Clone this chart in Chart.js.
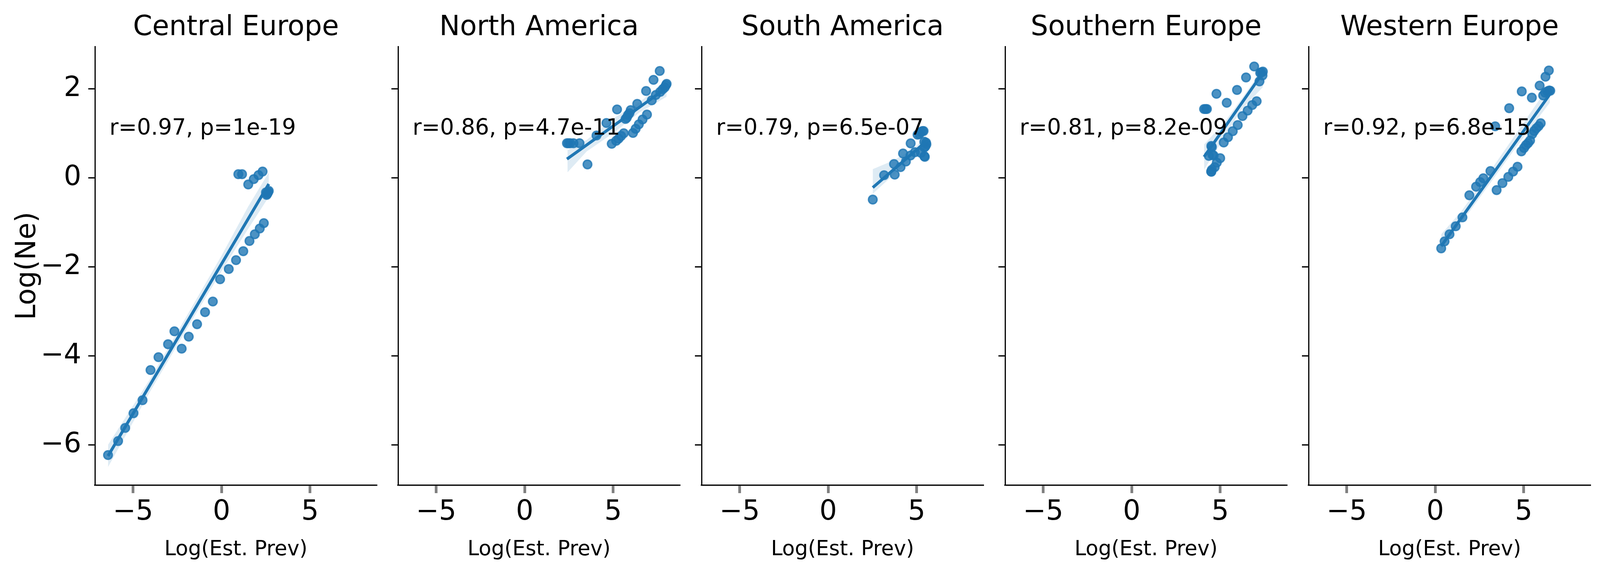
<!DOCTYPE html>
<html><head><meta charset="utf-8">
<style>html,body{margin:0;padding:0;background:#fff;overflow:hidden}canvas{position:absolute;top:0}</style>
<script src="https://cdn.jsdelivr.net/npm/chart.js@4"></script></head><body>
<script>
const regions = ["Central Europe","North America","South America","Southern Europe","Western Europe"];
const notes = ["r=0.97, p=1e-19","r=0.86, p=4.7e-11","r=0.79, p=6.5e-07","r=0.81, p=8.2e-09","r=0.92, p=6.8e-15"];
const xTickValues = [-5,0,5];
const yTickValues = [-6,-4,-2,0,2];
const xLabel = "Log(Est. Prev)";
const yLabel = "Log(Ne)";

const centralX = [-6.41,-5.84,-5.44,-4.97,-4.46,-4.01,-3.56,-3.02,-2.66,-2.25,-1.85,-1.38,-0.93,-0.49,-0.08,0.41,0.82,1.23,1.58,1.88,2.16,2.39,0.95,1.16,1.51,1.82,2.09,2.32,2.51,2.55,2.61,2.67,2.57,2.63];
const centralY = [-6.23,-5.915,-5.62,-5.29,-4.997,-4.32,-4.03,-3.74,-3.45,-3.84,-3.57,-3.29,-3.02,-2.78,-2.28,-2.05,-1.85,-1.65,-1.42,-1.27,-1.14,-1.02,0.08,0.08,-0.15,-0.03,0.06,0.14,-0.33,-0.385,-0.345,-0.295,-0.36,-0.32];
const northX = [2.39,2.48,2.58,2.76,3.10,3.55,4.06,4.62,5.22,4.92,5.17,5.31,5.45,5.60,5.70,5.77,5.84,5.92,5.99,6.36,6.12,6.27,6.45,6.66,6.91,6.86,7.18,7.41,7.28,7.63,7.66,7.80,7.91,7.98,8.02];
const northY = [0.776,0.776,0.776,0.776,0.776,0.30,0.95,1.23,1.535,0.764,0.83,0.88,0.94,1.0,1.32,1.35,1.41,1.45,1.52,1.66,1.007,1.10,1.20,1.31,1.42,1.95,1.74,1.86,2.20,2.40,1.93,1.99,2.03,2.08,2.11];
const southX = [2.52,3.16,3.76,3.72,4.09,4.39,4.23,4.66,4.65,4.90,5.05,5.15,5.24,5.33,5.39,5.43,5.53,5.55,5.49,5.43,5.43,5.46,5.24];
const southY = [-0.49,0.057,0.07,0.31,0.24,0.364,0.545,0.773,0.50,0.574,0.968,0.98,1.03,1.05,1.05,0.81,0.79,0.75,0.705,0.68,0.486,0.47,0.56];
const southernX = [6.92,6.46,5.95,4.79,5.37,4.09,4.18,4.25,7.06,6.81,6.55,6.26,5.99,5.71,5.44,5.20,7.22,7.39,7.41,7.33,7.26,4.50,4.53,4.36,4.56,4.63,5.0,4.81,4.69,4.53,4.49,4.50];
const southernY = [2.50,2.254,1.973,1.886,1.684,1.544,1.544,1.544,1.72,1.634,1.509,1.386,1.185,1.047,0.91,0.793,2.166,2.30,2.385,2.37,2.356,0.714,0.69,0.492,0.516,0.50,0.44,0.34,0.238,0.18,0.142,0.135];
const westernX = [0.34,0.53,0.81,1.16,1.54,1.93,2.31,2.54,2.72,3.12,3.39,4.18,4.89,5.46,5.90,6.23,6.42,3.47,3.80,4.13,4.40,4.65,4.87,5.02,5.13,5.25,5.36,5.48,5.59,5.71,5.84,5.96,6.10,6.21,6.33,6.44,6.50];
const westernY = [-1.586,-1.43,-1.27,-1.09,-0.89,-0.393,-0.20,-0.096,-0.01,0.151,1.156,1.563,1.94,1.80,2.07,2.27,2.41,-0.277,-0.12,0.02,0.139,0.248,0.593,0.67,0.734,0.78,0.837,0.98,1.05,1.11,1.16,1.225,1.85,1.91,1.94,1.96,1.955];

const centralFitX = [-6.41,2.67]; const centralFitY = [-6.25,-0.14];
const northFitX = [2.39,8.02]; const northFitY = [0.42,2.02];
const southFitX = [2.52,5.55]; const southFitY = [-0.22,0.82];
const southernFitX = [4.09,7.41]; const southernFitY = [0.47,2.356];
const westernFitX = [0.34,6.48]; const westernFitY = [-1.535,1.876];

const centralBandX = [-6.41,-4,-2,0,1.5,2.67];
const centralBandHi = [-6.0,-4.5,-3.13,-1.75,-0.65,0.12];
const centralBandLo = [-6.5,-4.78,-3.42,-2.1,-1.15,-0.43];
const northBandX = [2.42,3.5,5,6.5,8.02];
const northBandHi = [0.618,0.85,1.33,1.7,2.2];
const northBandLo = [0.12,0.59,1.0,1.47,1.82];
const southBandX = [2.52,3.4,4.2,5,5.55];
const southBandHi = [0.194,0.34,0.50,0.72,0.95];
const southBandLo = [-0.36,-0.04,0.23,0.52,0.68];
const southernBandX = [4.09,5.3,6.2,7.41];
const southernBandHi = [0.749,1.275,1.77,2.45];
const southernBandLo = [0.18,0.95,1.53,2.035];
const westernBandX = [0.34,1.5,3,4.5,6.48];
const westernBandHi = [-1.27,-0.74,0.09,0.95,2.1];
const westernBandLo = [-1.6,-1.0,-0.18,0.65,1.69];

const panelX = [centralX,northX,southX,southernX,westernX];
const panelY = [centralY,northY,southY,southernY,westernY];
const fitX = [centralFitX,northFitX,southFitX,southernFitX,westernFitX];
const fitY = [centralFitY,northFitY,southFitY,southernFitY,westernFitY];
const bandX = [centralBandX,northBandX,southBandX,southernBandX,westernBandX];
const bandHi = [centralBandHi,northBandHi,southBandHi,southernBandHi,westernBandHi];
const bandLo = [centralBandLo,northBandLo,southBandLo,southernBandLo,westernBandLo];

const FONT = "'DejaVu Sans'";
const BLUE = "31,119,180";
const pairs = (xs, ys) => xs.map((x, i) => ({x, y: ys[i]}));
const fmt = v => v < 0 ? "\u2212" + Math.abs(v) : String(v);

const noteText = {
  id: "noteText",
  afterDatasetsDraw(chart, args, opts) {
    const {ctx, scales} = chart;
    ctx.save();
    ctx.font = "56.4px " + FONT;
    ctx.fillStyle = "#000";
    ctx.textBaseline = "alphabetic";
    ctx.fillText(opts.text, scales.x.getPixelForValue(opts.x), scales.y.getPixelForValue(opts.y));
    ctx.restore();
  }
};

/* the browser window holds 4096 px of width, so the five panels keep the
   reference's proportions of that width and its full height */
const FRAME_W = Math.min(window.innerWidth, 4842), K = FRAME_W / 4842;
const LEFT = Math.round(286.7 * K), PLOT_W = Math.round(854 * K), STEP = 918.3 * K, H = 1465;
const W = Math.round(1170 * K);
regions.forEach((name, i) => {
  const c = document.createElement("canvas");
  c.width = W; c.height = H;
  c.style.left = Math.round(286.7 * K + STEP * i - LEFT) + "px";
  c.style.width = W + "px"; c.style.height = H + "px";
  document.body.appendChild(c);
  new Chart(c, {
    type: "scatter",
    data: {datasets: [
      {type:"line", data: pairs(fitX[i], fitY[i]), borderColor:`rgb(${BLUE})`, borderWidth:7.5, pointRadius:0, fill:false, order:0},
      {type:"line", data: pairs(bandX[i], bandHi[i]), borderWidth:0, borderColor:"transparent", pointRadius:0, fill:"+1", backgroundColor:`rgba(${BLUE},0.15)`, order:1},
      {type:"line", data: pairs(bandX[i], bandLo[i]), borderWidth:0, borderColor:"transparent", pointRadius:0, fill:false, order:1},
      {data: pairs(panelX[i], panelY[i]), pointRadius:11, pointBorderWidth:3.6, pointBackgroundColor:`rgba(${BLUE},0.8)`, pointBorderColor:`rgba(${BLUE},0.8)`, order:2}
    ]},
    options: {
      responsive:false, maintainAspectRatio:false, animation:false, devicePixelRatio:1,
      layout:{padding:{left:0,right:W-LEFT-PLOT_W,top:0,bottom:0}},
      plugins:{
        legend:{display:false}, tooltip:{enabled:false},
        title:{display:true, text:name, color:"#000", fullSize:false, font:{family:FONT,size:70.5,weight:"normal"}, padding:{top:29,bottom:5.4}},
        noteText:{text:notes[i], x:-6.33, y:0.97}
      },
      scales:{
        x:{type:"linear", min:-7.15, max:8.78,
          afterBuildTicks:s=>{s.ticks=xTickValues.map(value=>({value}));},
          afterFit:s=>{s.height=222;},
          grid:{drawOnChartArea:false, tickLength:20, tickColor:"#808080", tickWidth:7},
          border:{color:"#000",width:3.3},
          ticks:{color:"#000", maxRotation:0, padding:7, font:{family:FONT,size:70.5}, callback:fmt},
          title:{display:true, text:xLabel, color:"#000", font:{family:FONT,size:52.9}, padding:{top:0,bottom:25}}
        },
        y:{type:"linear", min:-6.91, max:2.95,
          afterBuildTicks:s=>{s.ticks=yTickValues.map(value=>({value}));},
          afterFit:s=>{s.width=LEFT;},
          grid:{drawOnChartArea:false, tickLength:17, tickColor:"#000", tickWidth:3.3},
          border:{color:"#000",width:3},
          ticks:{display:i===0, color:"#000", padding:18, font:{family:FONT,size:70.5}, callback:fmt},
          title:{display:i===0, text:yLabel, color:"#000", font:{family:FONT,size:70.5}, padding:{top:29,bottom:0}}
        }
      }
    },
    plugins:[noteText]
  });
});
</script></body></html>
